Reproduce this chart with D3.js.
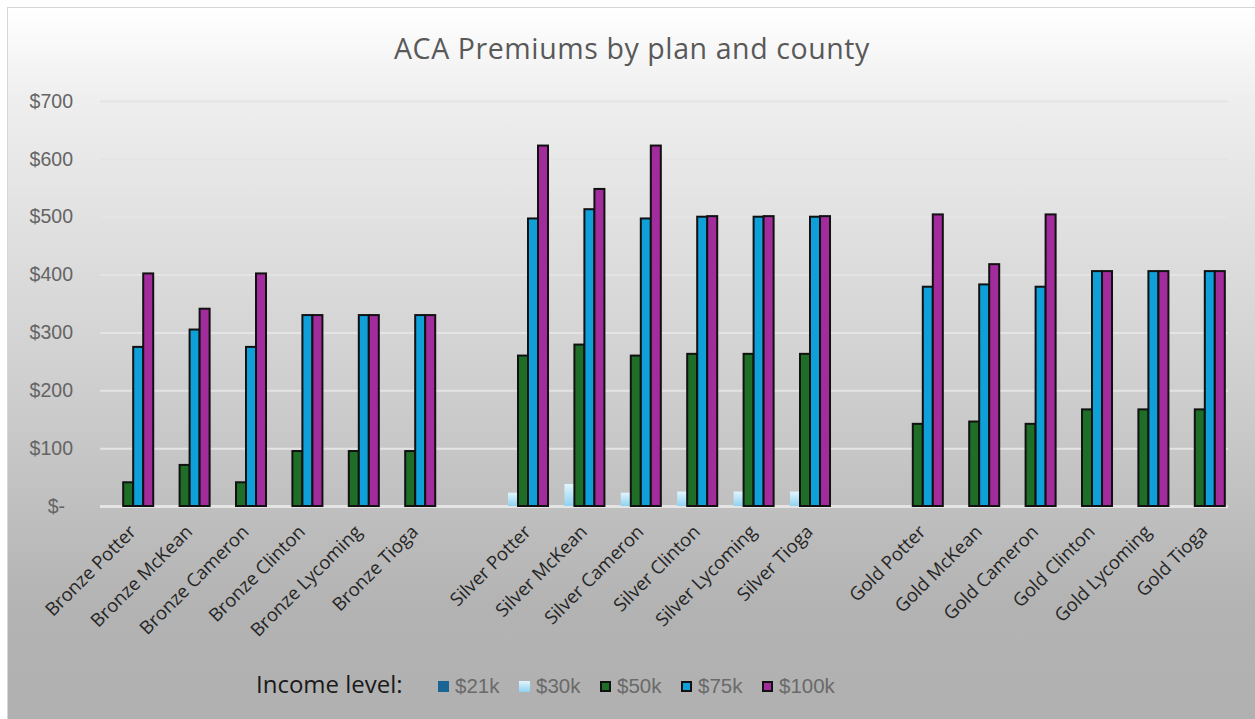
<!DOCTYPE html>
<html>
<head>
<meta charset="utf-8">
<script src="https://cdn.jsdelivr.net/npm/d3@7"></script>
<style>
  html, body { margin: 0; padding: 0; background: #ffffff; }
  svg { display: block; }
</style>
</head>
<body>
<svg id="chart" width="1255" height="719"></svg>
<script>
// Plan/county categories; empty strings leave a gap between the metal tiers
const categories = [
  "Bronze Potter", "Bronze McKean", "Bronze Cameron", "Bronze Clinton", "Bronze Lycoming", "Bronze Tioga",
  "",
  "Silver Potter", "Silver McKean", "Silver Cameron", "Silver Clinton", "Silver Lycoming", "Silver Tioga",
  "",
  "Gold Potter", "Gold McKean", "Gold Cameron", "Gold Clinton", "Gold Lycoming", "Gold Tioga"
];

// Monthly premium by income level (null = no premium shown)
const series = ["$21k", "$30k", "$50k", "$75k", "$100k"];
const inc21k  = [null, null, null, null, null, null, null, null, null, null, null, null, null, null, null, null, null, null, null, null];
const inc30k  = [null, null, null, null, null, null, null, 23, 38, 23, 25, 25, 25, null, null, null, null, null, null, null];
const inc50k  = [41, 71, 41, 95, 95, 95, null, 260, 279, 260, 263, 263, 263, null, 142, 146, 142, 167, 167, 167];
const inc75k  = [275, 305, 275, 330, 330, 330, null, 497, 513, 497, 500, 500, 500, null, 379, 383, 379, 406, 406, 406];
const inc100k = [402, 341, 402, 330, 330, 330, null, 623, 548, 623, 501, 501, 501, null, 504, 418, 504, 406, 406, 406];

const yTicks = [0, 100, 200, 300, 400, 500, 600, 700];

const seriesValues = [inc21k, inc30k, inc50k, inc75k, inc100k];
const seriesFill = ["#1b6594", "url(#lightBlue)", "#1e6e28", "#10a0d9", "#a22c9c"];
const seriesOutlined = [false, false, true, true, true];

const svg = d3.select("#chart");
const defs = svg.append("defs");

const bg = defs.append("linearGradient").attr("id", "bgGrad")
  .attr("x1", 0).attr("y1", 0).attr("x2", 0).attr("y2", 1);
bg.append("stop").attr("offset", "0%").attr("stop-color", "#ffffff");
bg.append("stop").attr("offset", "12%").attr("stop-color", "#efefef");
bg.append("stop").attr("offset", "50%").attr("stop-color", "#d0d0d0");
bg.append("stop").attr("offset", "82%").attr("stop-color", "#b3b3b3");
bg.append("stop").attr("offset", "100%").attr("stop-color", "#b0b0b0");

const lb = defs.append("linearGradient").attr("id", "lightBlue")
  .attr("x1", 0).attr("y1", 0).attr("x2", 0).attr("y2", 1);
lb.append("stop").attr("offset", "0%").attr("stop-color", "#e2f5fd");
lb.append("stop").attr("offset", "100%").attr("stop-color", "#8fd2f2");

// Chart area frame
svg.append("rect")
  .attr("x", 7.5).attr("y", 7.5)
  .attr("width", 1262).attr("height", 730)
  .attr("fill", "url(#bgGrad)")
  .attr("stroke", "#d6d6d6").attr("stroke-width", 1);

const plot = { left: 100, right: 1228, top: 101, bottom: 506 };

const y = d3.scaleLinear().domain([0, 700]).range([plot.bottom, plot.top]);

const x = d3.scaleBand()
  .domain(d3.range(categories.length))
  .range([plot.left, plot.right])
  .paddingInner(0.113)
  .paddingOuter(0.0565);

const xs = d3.scaleBand().domain(series).range([0, x.bandwidth()]);

// Title
svg.append("text")
  .attr("x", 632).attr("y", 59)
  .attr("text-anchor", "middle")
  .attr("font-family", "'Open Sans', sans-serif")
  .attr("font-size", 28.5)
  .attr("letter-spacing", 0.6)
  .attr("fill", "#595959")
  .text("ACA Premiums by plan and county");

// Gridlines
const grid = svg.append("g")
  .attr("transform", `translate(${plot.left},0)`)
  .call(d3.axisLeft(y).tickValues(yTicks).tickSize(-(plot.right - plot.left)).tickFormat(""));
grid.select(".domain").remove();
grid.selectAll(".tick line")
  .attr("stroke", "#e4e4e4")
  .attr("stroke-width", d => d === 0 ? 3 : 2);

// Y axis labels
const yAxis = svg.append("g")
  .attr("transform", `translate(${plot.left},0)`)
  .call(d3.axisLeft(y).tickValues(yTicks).tickSize(0).tickPadding(27)
    .tickFormat(d => d === 0 ? "$-" : "$" + d));
yAxis.select(".domain").remove();
yAxis.selectAll(".tick text")
  .attr("font-family", "'Liberation Sans', Arial, sans-serif")
  .attr("font-size", 19.5)
  .attr("fill", "#646464")
  .attr("dx", d => d === 0 ? -8 : 0);

// Bars
const bars = svg.append("g");
series.forEach((s, si) => {
  const vals = seriesValues[si];
  bars.append("g")
    .selectAll("rect")
    .data(vals.map((v, i) => ({ i, v })).filter(d => d.v != null))
    .join("rect")
    .attr("x", d => x(d.i) + xs(s))
    .attr("y", d => y(d.v))
    .attr("width", xs.bandwidth())
    .attr("height", d => y(0) - y(d.v))
    .attr("fill", seriesFill[si])
    .attr("stroke", seriesOutlined[si] ? "#111111" : "none")
    .attr("stroke-width", 2);
});

// X axis category labels
const xAxis = svg.append("g")
  .attr("transform", `translate(0,${plot.bottom})`)
  .call(d3.axisBottom(x).tickSize(0).tickFormat(i => categories[i]));
xAxis.select(".domain").remove();
xAxis.selectAll(".tick text")
  .attr("x", 0).attr("y", 0).attr("dy", 0)
  .attr("text-anchor", "end")
  .attr("transform", "translate(9,27) rotate(-45)")
  .attr("font-family", "'Open Sans', sans-serif")
  .attr("font-size", 18.5)
  .attr("fill", "#262626");

// Legend
const legend = svg.append("g");
legend.append("text")
  .attr("x", 256).attr("y", 693)
  .attr("font-family", "'Open Sans', sans-serif")
  .attr("font-size", 24)
  .attr("fill", "#1a1a1a")
  .text("Income level:");

const legendX = d3.scalePoint().domain(series).range([438, 762]);
const items = legend.selectAll("g.item")
  .data(series)
  .join("g")
  .attr("class", "item")
  .attr("transform", d => `translate(${legendX(d)},681)`);
items.append("rect")
  .attr("x", (d, i) => seriesOutlined[i] ? 1 : 0)
  .attr("y", (d, i) => seriesOutlined[i] ? 1 : 0)
  .attr("width", (d, i) => seriesOutlined[i] ? 9 : 11)
  .attr("height", (d, i) => seriesOutlined[i] ? 9 : 11)
  .attr("fill", (d, i) => seriesFill[i])
  .attr("stroke", (d, i) => seriesOutlined[i] ? "#111111" : "none")
  .attr("stroke-width", 2);
items.append("text")
  .attr("x", 17).attr("y", 12)
  .attr("font-family", "'Liberation Sans', Arial, sans-serif")
  .attr("font-size", 20.5)
  .attr("fill", "#6a6a6a")
  .text(d => d);
</script>
</body>
</html>
